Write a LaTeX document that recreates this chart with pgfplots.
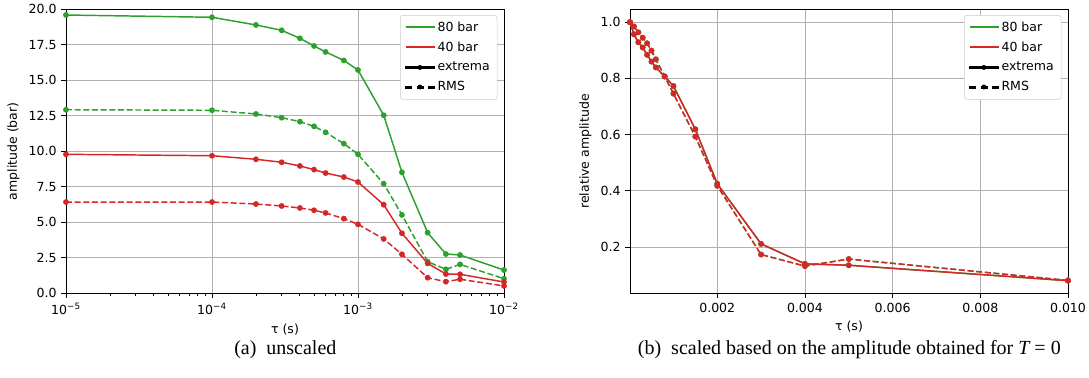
\documentclass[border=0pt]{standalone}
\usepackage{fontspec}
\setmainfont{DejaVu Sans}
\newfontfamily\capfont{Liberation Serif}
\usepackage{pgfplots}
\usepackage{pgfplotstable}
\pgfplotsset{compat=1.18}
\definecolor{cgreen}{HTML}{2CA02C}
\definecolor{cred}{HTML}{D62728}
\definecolor{gridgray}{HTML}{B0B0B0}
\definecolor{legframe}{HTML}{CCCCCC}

% unscaled amplitudes (bar)
\pgfplotstableread{
tau     g_ext  g_rms  r_ext  r_rms
1e-5    19.60  12.93  9.79   6.43
1e-4    19.44  12.89  9.69   6.43
2e-4    18.90  12.63  9.44   6.29
3e-4    18.52  12.37  9.23   6.15
4e-4    17.96  12.09  8.97   6.01
5e-4    17.42  11.76  8.71   5.85
6e-4    17.00  11.34  8.47   5.66
8e-4    16.40  10.54  8.19   5.26
1e-3    15.73  9.79   7.84   4.86
1.5e-3  12.54  7.72   6.24   3.83
2e-3    8.52   5.52   4.23   2.75
3e-3    4.27   2.23   2.11   1.10
4e-3    2.77   1.69   1.36   0.82
5e-3    2.70   2.04   1.34   0.99
1e-2    1.64   1.03   0.80   0.52
}\unscaled

% relative amplitudes
\pgfplotstableread{
tau     g_ext  g_rms  r_ext  r_rms
1e-5    1.000  1.000  1.000  1.000
1e-4    0.957  0.985  0.957  0.985
2e-4    0.929  0.964  0.929  0.964
3e-4    0.910  0.945  0.910  0.945
4e-4    0.884  0.925  0.884  0.925
5e-4    0.860  0.899  0.860  0.899
6e-4    0.839  0.868  0.839  0.868
8e-4    0.807  0.807  0.807  0.807
1e-3    0.773  0.746  0.773  0.746
1.5e-3  0.619  0.593  0.619  0.593
2e-3    0.425  0.418  0.425  0.418
3e-3    0.211  0.173  0.211  0.173
4e-3    0.140  0.132  0.140  0.132
5e-3    0.135  0.157  0.135  0.157
1e-2    0.080  0.081  0.080  0.081
}\scaled

\pgfplotsset{
  mystyle/.style={
    scale only axis, width=328.5pt, height=213pt,
    axis line style={black, line width=0.6pt},
    tick align=outside, tick pos=left,
    major tick length=3.5pt, minor tick length=2pt,
    every tick/.style={black, line width=0.6pt},
    grid=major, major grid style={gridgray, line width=0.6pt},
    font=\fontsize{9.4}{11}\selectfont,
    tick label style={font=\fontsize{9.4}{11}\selectfont},
    label style={font=\fontsize{9.4}{11}\selectfont},
    /pgf/number format/assume math mode=true,
    legend style={at={(rel axis cs:0.985,0.98)}, anchor=north east, draw=legframe,
      rounded corners=2pt, fill=white,
      font=\fontsize{9.4}{11}\selectfont, row sep=2.4pt, inner xsep=3.5pt, inner ysep=3pt},
    legend cell align=left,
  },
  ext/.style={line width=1.1pt, mark=*, mark size=1.6pt, solid},
  rms/.style={line width=1.1pt, mark=*, mark size=1.6pt, dash pattern=on 4.5pt off 2pt, mark options={solid}},
  lgreen/.style={legend image code/.code={%
    \node[inner sep=0pt, anchor=west, text=cgreen] at (0pt,0pt) {\color{cgreen}\rule[-0.55pt]{22pt}{1.1pt}};}},
  lred/.style={legend image code/.code={%
    \node[inner sep=0pt, anchor=west, text=cred] at (0pt,0pt) {\color{cred}\rule[-0.55pt]{22pt}{1.1pt}};}},
  lext/.style={legend image code/.code={%
    \fill[fill=black, sharp corners] (0pt,-0.55pt) rectangle (22pt,0.55pt);
    \fill[fill=black] (11pt,0pt) circle (1.6pt);}},
  lrms/.style={legend image code/.code={%
    \fill[fill=black, sharp corners] (0pt,-0.55pt) rectangle (4.5pt,0.55pt);
    \fill[fill=black, sharp corners] (8.7pt,-0.55pt) rectangle (13.3pt,0.55pt);
    \fill[fill=black, sharp corners] (17.5pt,-0.55pt) rectangle (22pt,0.55pt);
    \fill[fill=black] (11pt,0pt) circle (1.6pt);}},
}

\begin{document}
\begin{tikzpicture}
\path[use as bounding box] (0,0) rectangle (816.75pt,283.5pt);

\begin{axis}[mystyle, at={(49.5pt,276.5pt)}, anchor=north west,
  xmode=log, xmin=1e-5, xmax=1e-2, ymin=0, ymax=20,
  ytick={0,2.5,5,7.5,10,12.5,15,17.5,20},
  yticklabel style={/pgf/number format/.cd, fixed, fixed zerofill, precision=1},
  xticklabel={\pgfmathtruncatemacro\e{abs(round(\tick/ln(10)))}10\textsuperscript{−\e}},
  xlabel={τ (s)}, ylabel={amplitude (bar)}]
\addlegendimage{lgreen}
\addlegendentry{80 bar}
\addlegendimage{lred}
\addlegendentry{40 bar}
\addlegendimage{lext}
\addlegendentry{extrema}
\addlegendimage{lrms}
\addlegendentry{RMS}
\addplot[cgreen, ext, forget plot] table[x=tau, y=g_ext] {\unscaled};
\addplot[cgreen, rms, forget plot] table[x=tau, y=g_rms] {\unscaled};
\addplot[cred, ext, forget plot] table[x=tau, y=r_ext] {\unscaled};
\addplot[cred, rms, forget plot] table[x=tau, y=r_rms] {\unscaled};
\end{axis}

\begin{axis}[mystyle, at={(472.5pt,276.5pt)}, anchor=north west,
  xmin=1e-5, xmax=0.01, ymin=0.035, ymax=1.046,
  xtick={0.002,0.004,0.006,0.008,0.010},
  ytick={0.2,0.4,0.6,0.8,1.0},
  scaled x ticks=false,
  xticklabel style={/pgf/number format/.cd, fixed, fixed zerofill, precision=3},
  yticklabel style={/pgf/number format/.cd, fixed, fixed zerofill, precision=1},
  xlabel={τ (s)}, ylabel={relative amplitude}]
\addlegendimage{lgreen}
\addlegendentry{80 bar}
\addlegendimage{lred}
\addlegendentry{40 bar}
\addlegendimage{lext}
\addlegendentry{extrema}
\addlegendimage{lrms}
\addlegendentry{RMS}
\addplot[cgreen, ext, forget plot] table[x=tau, y=g_ext] {\scaled};
\addplot[cgreen, rms, forget plot] table[x=tau, y=g_rms] {\scaled};
\addplot[cred, ext, forget plot] table[x=tau, y=r_ext] {\scaled};
\addplot[cred, rms, forget plot] table[x=tau, y=r_rms] {\scaled};
\end{axis}

\node[font=\capfont\fontsize{15}{18}\selectfont] at (214pt,21pt) {(a)\enspace unscaled};
\node[font=\capfont\fontsize{15}{18}\selectfont] at (637pt,21pt) {(b)\enspace scaled based on the amplitude obtained for {\itshape T} = 0};
\end{tikzpicture}
\end{document}
